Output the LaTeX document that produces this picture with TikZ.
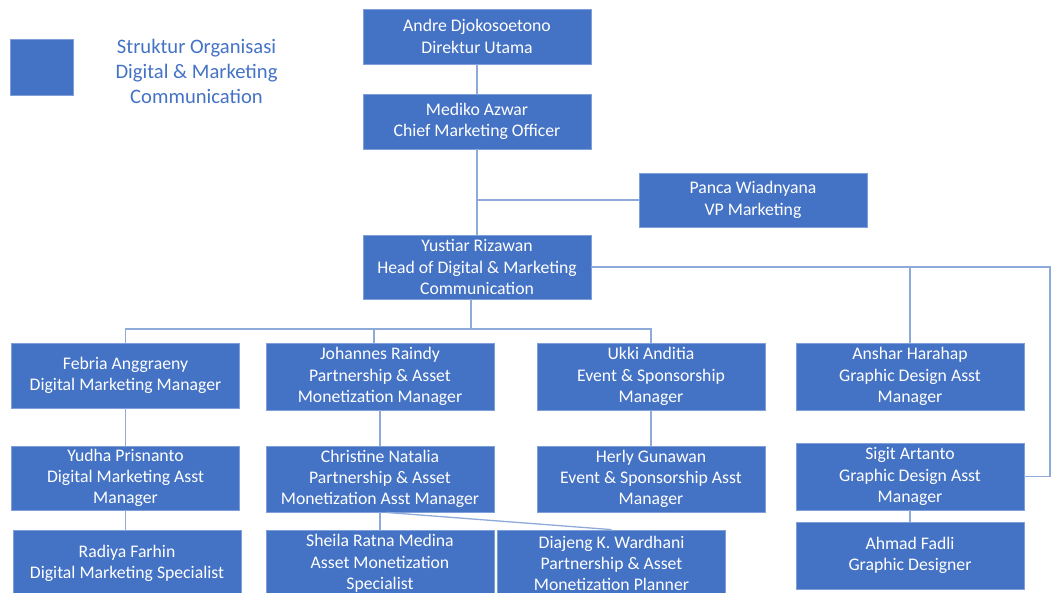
\documentclass[tikz,border=0pt]{standalone}
\usepackage{fontspec}
\setmainfont{Carlito}
\definecolor{boxblue}{HTML}{4472C4}
\definecolor{linkblue}{HTML}{8EAADB}
\definecolor{edgeblue}{HTML}{7F9FD8}
\begin{document}
\begin{tikzpicture}[x=1pt,y=-1pt,
  person/.style={draw=edgeblue,line width=0.8pt,fill=boxblue,text=white,align=center,
    minimum width=228pt,inner sep=0pt,font=\fontsize{17.7}{21.3}\selectfont},
  link/.style={draw=linkblue,line width=1.3pt}]
\useasboundingbox (0,0) rectangle (1051,592);
\clip (0,0) rectangle (1051,592);
% legend
\node[fill=boxblue,draw=edgeblue,line width=0.8pt,minimum width=63pt,minimum height=56pt,inner sep=0pt] (legend) at (41.5,67) {};
\node[text=boxblue,align=center,font=\fontsize{20.6}{25}\selectfont] (title) at (196.5,71.5) {Struktur Organisasi\\Digital \& Marketing\\Communication};
% nodes
\node[person,minimum height=55pt] (andre) at (477,36.5) {Andre Djokosoetono\\Direktur Utama};
\node[person,minimum height=55pt] (mediko) at (477,121.5) {Mediko Azwar\\Chief Marketing Officer};
\node[person,minimum height=54pt] (panca) at (753,200) {Panca Wiadnyana\\VP Marketing};
\node[person,minimum height=64pt] (yustiar) at (477,267) {Yustiar Rizawan\\Head of Digital \& Marketing\\Communication};
\node[person,minimum height=65pt] (febria) at (125.5,375.5) {Febria Anggraeny\\Digital Marketing Manager};
\node[person,minimum height=67pt] (johannes) at (380,376.5) {Johannes Raindy\\Partnership \& Asset\\Monetization Manager};
\node[person,minimum height=67pt] (ukki) at (651,376.5) {Ukki Anditia\\Event \& Sponsorship\\Manager};
\node[person,minimum height=67pt] (anshar) at (910,376.5) {Anshar Harahap\\Graphic Design Asst\\Manager};
\node[person,minimum height=64pt] (yudha) at (125.5,478) {Yudha Prisnanto\\Digital Marketing Asst\\Manager};
\node[person,minimum height=66pt] (christine) at (380,479) {Christine Natalia\\Partnership \& Asset\\Monetization Asst Manager};
\node[person,minimum height=66pt] (herly) at (651,479) {Herly Gunawan\\Event \& Sponsorship Asst\\Manager};
\node[person,minimum height=67pt] (sigit) at (910,476.5) {Sigit Artanto\\Graphic Design Asst\\Manager};
\node[person,minimum height=67pt] (radiya) at (127,563.5) {Radiya Farhin\\Digital Marketing Specialist};
\node[person,minimum height=67pt] (sheila) at (380,563.5) {Sheila Ratna Medina\\Asset Monetization\\Specialist};
\node[person,minimum height=67pt] (diajeng) at (611.5,563.5) {Diajeng K. Wardhani\\Partnership \& Asset\\Monetization Planner};
\node[person,minimum height=67pt] (ahmad) at (910,555.5) {Ahmad Fadli\\Graphic Designer};
% connectors
\coordinate (bus) at (471,329);
\coordinate (rightbus) at (1050,267);
\draw[link] (andre.south) -- (mediko.north);
\draw[link] (mediko.south) -- (yustiar.north);
\draw[link] (panca.west) -- (panca.west -| mediko.south);
\draw[link] (bus |- yustiar.south) -- (bus);
\draw[link] (febria.north) |- (bus) -| (ukki.north);
\draw[link] (374,329) -- (374,343);
\draw[link] (yustiar.east) -- (rightbus) |- (sigit.east);
\draw[link] (anshar.north) -- (anshar.north |- rightbus);
\draw[link] (febria.south) -- (yudha.north);
\draw[link] (yudha.south) -- (yudha.south |- radiya.north);
\draw[link] (johannes.south) -- (christine.north);
\draw[link] (ukki.south) -- (herly.north);
\draw[link] (christine.south) -- (sheila.north);
\draw[link] (christine.south) ++(6,0) -- (diajeng.north);
\draw[link] (sigit.south) -- (ahmad.north);
\end{tikzpicture}
\end{document}
